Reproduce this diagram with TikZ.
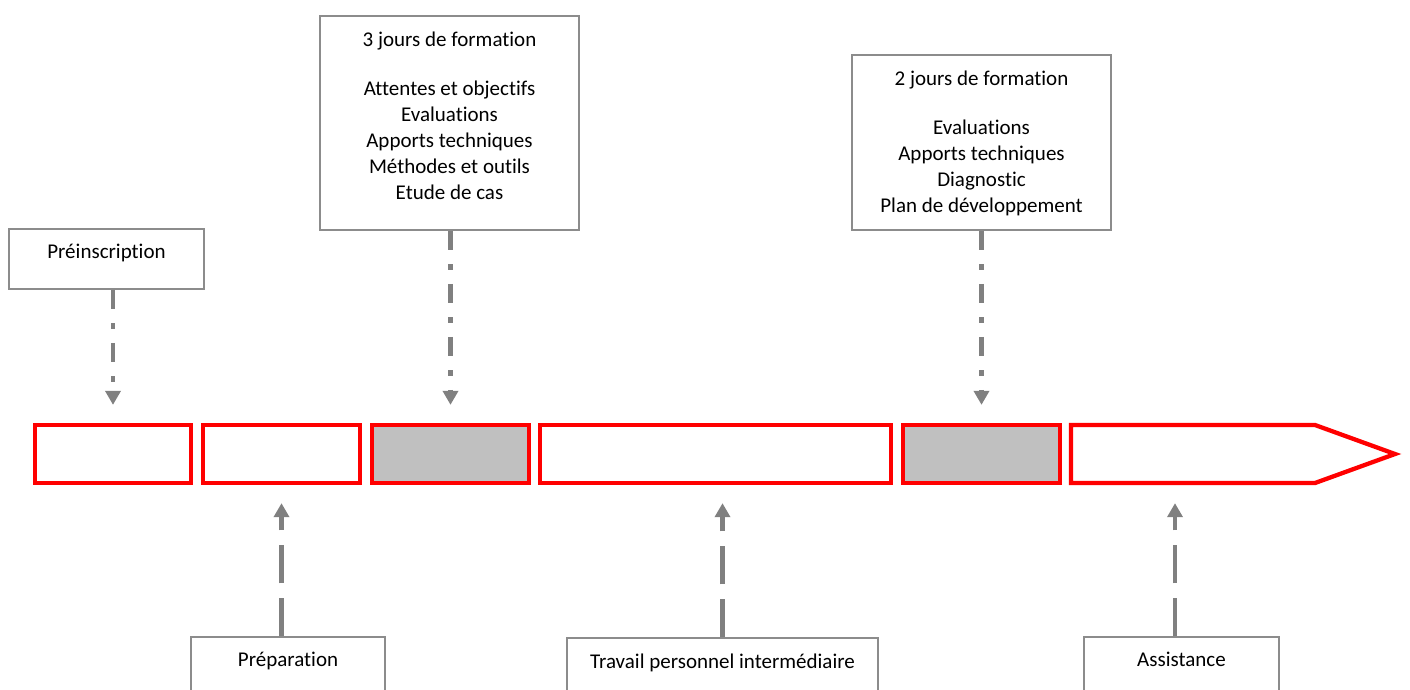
\documentclass[tikz,border=0pt]{standalone}
\usepackage{fontspec}
\setmainfont{Carlito}[Ligatures=NoCommon]
\usepackage{xcolor}
\usepackage{tikz}
\usetikzlibrary{arrows.meta, positioning}

\definecolor{segred}{HTML}{FF0000}
\definecolor{segfill}{HTML}{C0C0C0}
\definecolor{boxgray}{HTML}{8C8C8C}
\definecolor{arrowgray}{HTML}{808080}

\begin{document}
\begin{tikzpicture}[x=1pt, y=-1pt,
        timebox/.style={draw=segred, line width=4.3pt, minimum height=58pt, inner sep=0pt},
        infobox/.style={draw=boxgray, line width=1.5pt, inner sep=0pt},
        txt/.style={anchor=north, align=center, inner sep=0pt, font=\fontsize{21}{26}\selectfont},
        arrowdown/.style={color=arrowgray, line width=4.5pt, dash pattern=on 19.5pt off 14pt on 5.5pt off 14pt, -{Triangle[width=15pt, length=14pt]}, shorten >=18pt},
        arrowup/.style={color=arrowgray, line width=4.5pt, dash pattern=on 38pt off 15pt, -{Triangle[width=15pt, length=14pt]}, shorten >=18pt}]
        \useasboundingbox (0,0) rectangle (1410,689);

        % time line
        \node[timebox, minimum width=156pt] (seg1) at (113,454) {};
        \node[timebox, minimum width=157pt] (seg2) at (281.5,454) {};
        \node[timebox, minimum width=157pt, fill=segfill] (seg3) at (450.5,454) {};
        \node[timebox, minimum width=351pt] (seg4) at (715.5,454) {};
        \node[timebox, minimum width=157pt, fill=segfill] (seg5) at (981.5,454) {};
        \draw[draw=segred, line width=4.3pt, line join=miter] (1071,425) -- (1315,425) -- (1395,454) -- (1315,483) -- (1071,483) -- cycle;

        % boxes above
        \node[infobox, minimum width=195pt, minimum height=60pt] (pre) at (106.5,259) {};
        \node[txt, below=16pt of pre.north] {Préinscription};

        \node[infobox, minimum width=259pt, minimum height=214pt] (jours3) at (449.5,123) {};
        \node[txt, below=16pt of jours3.north] {3 jours de formation\\[23pt]
            Attentes et objectifs\\ Evaluations\\ Apports techniques\\
            Méthodes et outils\\ Etude de cas};

        \node[infobox, minimum width=259pt, minimum height=175pt] (jours2) at (981.5,142.5) {};
        \node[txt, below=16pt of jours2.north] {2 jours de formation\\[23pt]
            Evaluations\\ Apports techniques\\ Diagnostic\\ Plan de développement};

        % boxes below
        \node[infobox, minimum width=194pt, minimum height=60pt] (prep) at (288,667) {};
        \node[txt, below=16pt of prep.north] {Préparation};

        \node[infobox, minimum width=311pt, minimum height=60pt] (travail) at (722.5,668) {};
        \node[txt, below=16pt of travail.north] {Travail personnel intermédiaire};

        \node[infobox, minimum width=195pt, minimum height=60pt] (assist) at (1181.5,667) {};
        \node[txt, below=16pt of assist.north] {Assistance};
        \coordinate (assistfoot) at ([xshift=-6.5pt]assist.north);

        % arrows
        \draw[arrowdown] (pre.south -| seg1) -- (seg1.north);
        \draw[arrowdown] (jours3.south -| seg3) -- (seg3.north);
        \draw[arrowdown] (jours2.south -| seg5) -- (seg5.north);

        \draw[arrowup] (prep.north -| seg2) -- (seg2.south);
        \draw[arrowup] (travail.north) -- (travail.north |- seg4.south);
        \draw[arrowup] (assistfoot) -- (assistfoot |- seg5.south);

    \end{tikzpicture}
\end{document}
